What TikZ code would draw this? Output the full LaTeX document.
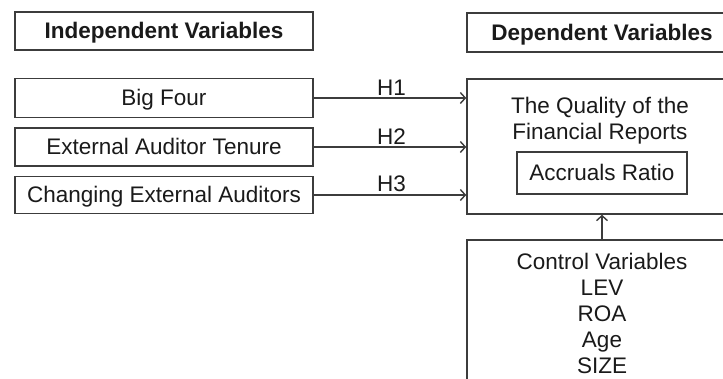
\documentclass[tikz,border=0pt]{standalone}
\usepackage{fontspec}
\setmainfont{Liberation Sans}
\usetikzlibrary{arrows.meta}
\definecolor{linec}{HTML}{3C3C3C}
\definecolor{textc}{HTML}{1A1A1A}
\begin{document}
\begin{tikzpicture}[x=1pt,y=-1pt,
  box/.style={draw=linec, line width=1.5pt, inner sep=0pt, text=textc,
    font=\fontsize{22.5}{26}\selectfont, rectangle, text height=16pt, text depth=0pt},
  title/.style={box, font=\fontsize{22.5}{26}\selectfont\bfseries},
  txt/.style={inner sep=0pt, text=textc, font=\fontsize{22.5}{26}\selectfont, align=center},
  arr/.style={draw=linec, line width=1.8pt, -{Straight Barb[length=5pt,width=11pt,line width=1.4pt]}},
  hlab/.style={inner sep=2pt, text=textc, font=\fontsize{22.5}{26}\selectfont}]
\useasboundingbox (0,0) rectangle (723,379);
\clip (0,0) rectangle (723,379);
\fill[white] (0,0) rectangle (723,379);
% left column
\node[title, minimum width=298pt, minimum height=38pt] (indep) at (164,31) {Independent Variables};
\node[box, minimum width=298pt, minimum height=39pt] (big) at (164,98) {Big Four};
\node[box, minimum width=298pt, minimum height=38pt] (tenure) at (164,147) {External Auditor Tenure};
\node[box, minimum width=298pt, minimum height=37pt] (change) at (164,195) {Changing External Auditors};
% right column
\node[title, minimum width=270pt, minimum height=39pt] (dep) at (602,32.5) {Dependent Variables};
\node[box, minimum width=270pt, minimum height=135pt] (quality) at (602,146.5) {};
\node[txt] (qtext) at (600,120.5) {The Quality of the\\Financial Reports};
\node[box, minimum width=170pt, minimum height=42pt] (accr) at (602,173) {Accruals Ratio};
\node[box, minimum width=270pt, minimum height=190pt] (control) at (602,335) {};
\node[txt] (ctext) at (602,313.5) {Control Variables\\LEV\\ROA\\Age\\SIZE};
% arrows
\draw[arr] (big.east) -- (big.east -| quality.west) node[hlab, pos=0.51, above] (h1) {H1};
\draw[arr] (tenure.east) -- (tenure.east -| quality.west) node[hlab, pos=0.51, above] (h2) {H2};
\draw[arr] (change.east) -- (change.east -| quality.west) node[hlab, pos=0.51, above] (h3) {H3};
\draw[arr] (control.north) -- (quality.south);
\end{tikzpicture}
\end{document}
